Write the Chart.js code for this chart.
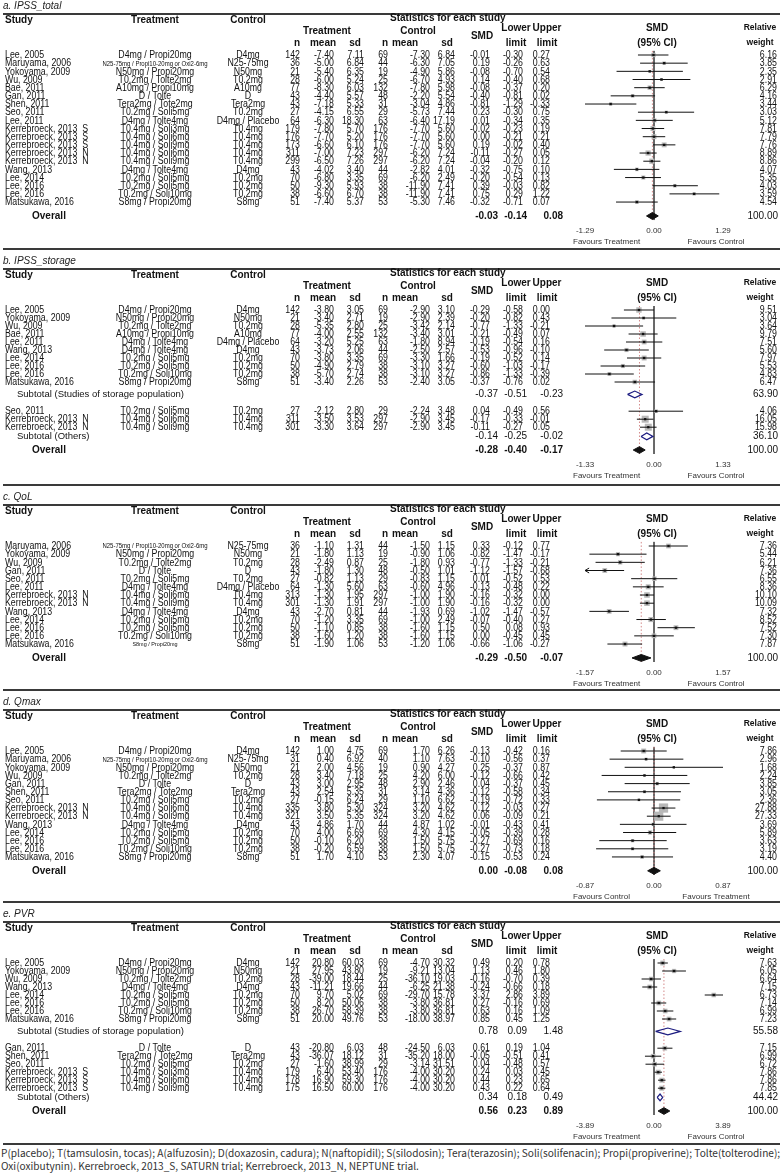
<!DOCTYPE html>
<html>
<head>
<meta charset="utf-8">
<script src="https://cdn.jsdelivr.net/npm/chart.js@4.4.1/dist/chart.umd.min.js"></script>
<style>
  html, body { margin: 0; padding: 0; background: #fff; }
  #page { position: relative; width: 784px; height: 1175px; overflow: hidden; }
  #page canvas { position: absolute; left: 0; }
  #note { position: absolute; left: 1px; top: 1146px; width: 783px; white-space: nowrap;
          font: 10.1px "Noto Sans CJK KR", sans-serif; line-height: 13px; color: #333; }
</style>
</head>
<body>
<div id="page">
  <canvas id="pa"></canvas>
  <canvas id="pb"></canvas>
  <canvas id="pc"></canvas>
  <canvas id="pd"></canvas>
  <canvas id="pe"></canvas>
  <div id="note">P(placebo); T(tamsulosin, tocas); A(alfuzosin); D(doxazosin, cadura); N(naftopidil); S(silodosin); Tera(terazosin); Soli(solifenacin); Propi(propiverine); Tolte(tolterodine);<br>Oxi(oxibutynin). Kerrebroeck, 2013_S, SATURN trial; Kerrebroeck, 2013_N, NEPTUNE trial.</div>
</div>
<script>
// ---- a. IPSS_total
const aStudies = ['Lee, 2005','Maruyama, 2006','Yokoyama, 2009','Wu, 2009','Bae, 2011','Gan, 2011','Shen, 2011','Seo, 2011','Lee, 2011','Kerrebroeck, 2013  S','Kerrebroeck, 2013  S','Kerrebroeck, 2013  S','Kerrebroeck, 2013  N','Kerrebroeck, 2013  N','Wang, 2013','Lee, 2014','Lee, 2016','Lee, 2016','Matsukawa, 2016'];
const aTreat = ['D4mg / Propi20mg','N25-75mg / Propi10-20mg or Oxi2-6mg','N50mg / Propi20mg','T0.2mg / Tolte2mg','A10mg / Propi10mg','D / Tolte','Tera2mg / Tote2mg','T0.2mg / Soli5mg','D4mg / Tolte4mg','T0.4mg / Soli3mg','T0.4mg / Soli6mg','T0.4mg / Soli9mg','T0.4mg / Soli6mg','T0.4mg / Soli9mg','D4mg / Tolte4mg','T0.2mg / Soli5mg','T0.2mg / Soli5mg','T0.2mg / Soli10mg','S8mg / Propi20mg'];
const aCtrl = ['D4mg','N25-75mg','N50mg','T0.2mg','A10mg','D','Tera2mg','T0.2mg','D4mg / Placebo','T0.4mg','T0.4mg','T0.4mg','T0.4mg','T0.4mg','D4mg','T0.2mg','T0.2mg','T0.2mg','S8mg'];
const aTrtN = [142,36,21,28,77,43,43,27,64,179,176,173,311,299,43,70,50,38,51];
const aTrtMean = [-7.40,-5.00,-5.40,-6.00,-8.30,-4.40,-7.18,-4.15,-6.30,-7.80,-7.70,-6.60,-7.00,-6.50,-4.02,-6.80,-9.30,-6.60,-7.40];
const aTrtSd = [7.11,6.84,6.35,5.24,6.03,5.57,5.33,6.55,18.30,5.70,5.20,6.10,7.23,7.26,3.40,3.35,5.93,6.70,5.37];
const aCtlN = [69,44,19,25,132,48,31,29,63,176,176,176,297,297,44,69,38,38,53];
const aCtlMean = [-7.30,-6.30,-4.90,-6.70,-7.80,-2.20,-3.04,-5.73,-6.40,-7.70,-7.70,-7.70,-6.20,-6.20,-2.82,-6.20,-11.90,-11.90,-5.30];
const aCtlSd = [6.84,7.05,5.86,4.93,5.98,5.54,4.86,7.44,17.19,5.60,5.60,5.60,7.24,7.24,4.01,2.49,7.41,7.41,7.46];
const aSmd = [-0.01,0.19,-0.08,0.14,-0.08,-0.40,-0.81,0.23,0.01,-0.02,0.00,0.19,-0.11,-0.04,-0.32,-0.20,0.39,0.75,-0.32];
const aLower = [-0.30,-0.26,-0.70,-0.40,-0.37,-0.81,-1.29,-0.30,-0.34,-0.23,-0.21,-0.02,-0.27,-0.20,-0.75,-0.54,-0.03,0.29,-0.71];
const aUpper = [0.27,0.63,0.54,0.68,0.20,0.02,-0.33,0.75,0.35,0.19,0.21,0.40,0.05,0.12,0.10,0.13,0.82,1.22,0.07];
const aWeight = [6.16,3.85,2.35,2.91,6.29,4.16,3.44,3.03,5.12,7.81,7.79,7.76,8.89,8.86,4.07,5.35,4.03,3.59,4.54];
const aOverall = [-0.03,-0.14,0.08];
const aLimit = 1.29;

// ---- b. IPSS_storage
const bStudies = ['Lee, 2005','Yokoyama, 2009','Wu, 2009','Bae, 2011','Lee, 2011','Wang, 2013','Lee, 2014','Lee, 2016','Lee, 2016','Matsukawa, 2016','Seo, 2011','Kerrebroeck, 2013  N','Kerrebroeck, 2013  N'];
const bTreat = ['D4mg / Propi20mg','N50mg / Propi20mg','T0.2mg / Tolte2mg','A10mg / Propi10mg','D4mg / Tolte4mg','D4mg / Tolte4mg','T0.2mg / Soli5mg','T0.2mg / Soli5mg','T0.2mg / Soli10mg','S8mg / Propi20mg','T0.2mg / Soli5mg','T0.4mg / Soli6mg','T0.4mg / Soli9mg'];
const bCtrl = ['D4mg','N50mg','T0.2mg','A10mg','D4mg / Placebo','D4mg','T0.2mg','T0.2mg','T0.2mg','S8mg','T0.2mg','T0.4mg','T0.4mg'];
const bTrtN = [142,21,28,77,64,43,70,50,38,51,27,311,301];
const bTrtMean = [-3.80,-3.40,-5.35,-4.00,-3.20,-3.73,-3.80,-4.90,-5.70,-3.40,-2.12,-3.50,-3.30];
const bTrtSd = [3.05,2.71,2.80,2.55,5.25,2.06,3.35,2.79,2.74,2.26,2.80,3.53,3.64];
const bCtlN = [69,19,25,132,63,44,69,38,38,53,29,297,297];
const bCtlMean = [-2.90,-2.90,-3.42,-3.40,-1.80,-2.50,-3.30,-3.10,-3.10,-2.40,-2.24,-2.90,-2.90];
const bCtlSd = [3.10,2.39,2.14,3.01,8.94,2.57,1.66,3.27,3.27,3.05,3.48,3.45,3.45];
const bSmd = [-0.29,-0.20,-0.77,-0.21,-0.19,-0.53,-0.19,-0.60,-0.86,-0.37,0.04,-0.17,-0.11];
const bLower = [-0.58,-0.82,-1.33,-0.49,-0.54,-0.96,-0.52,-1.03,-1.33,-0.76,-0.49,-0.33,-0.27];
const bUpper = [0.00,0.43,-0.21,0.07,0.16,-0.10,0.14,-0.17,-0.39,0.02,0.56,-0.01,0.05];
const bWeight = [9.51,3.04,3.64,9.79,7.51,5.60,7.97,5.53,4.83,6.47,4.06,16.05,15.98];
const bGroups = [10,3];
const bSubLabels = ['Subtotal (Studies of storage population)','Subtotal (Others)'];
const bSubSmd = [-0.37,-0.14];
const bSubLower = [-0.51,-0.25];
const bSubUpper = [-0.23,-0.02];
const bSubWeight = [63.90,36.10];
const bOverall = [-0.28,-0.40,-0.17];
const bLimit = 1.33;

// ---- c. QoL
const cStudies = ['Maruyama, 2006','Yokoyama, 2009','Wu, 2009','Gan, 2011','Seo, 2011','Lee, 2011','Kerrebroeck, 2013  N','Kerrebroeck, 2013  N','Wang, 2013','Lee, 2014','Lee, 2016','Lee, 2016','Matsukawa, 2016'];
const cTreat = ['N25-75mg / Propi10-20mg or Oxi2-6mg','N50mg / Propi20mg','T0.2mg / Tolte2mg','D / Tolte','T0.2mg / Soli5mg','D4mg / Tolte4mg','T0.4mg / Soli6mg','T0.4mg / Soli9mg','D4mg / Tolte4mg','T0.2mg / Soli5mg','T0.2mg / Soli5mg','T0.2mg / Soli10mg','S8mg / Propi20mg'];
const cCtrl = ['N25-75mg','N50mg','T0.2mg','D','T0.2mg','D4mg / Placebo','T0.4mg','T0.4mg','D4mg','T0.2mg','T0.2mg','T0.2mg','S8mg'];
const cTrtN = [36,21,28,43,27,64,313,301,43,70,50,38,51];
const cTrtMean = [-1.10,-1.80,-2.49,-1.80,-0.82,-1.30,-1.30,-1.30,-2.70,-1.20,-1.10,-1.60,-1.90];
const cTrtSd = [1.31,1.13,0.87,1.30,1.13,5.60,1.95,1.91,0.81,3.35,0.85,1.20,1.06];
const cCtlN = [44,19,25,48,29,63,297,297,44,69,38,38,53];
const cCtlMean = [-1.50,-0.90,-1.80,-0.50,-0.83,-0.60,-1.00,-1.00,-1.93,-1.00,-1.60,-1.60,-1.20];
const cCtlSd = [1.15,1.06,0.93,1.01,1.15,4.96,1.90,1.90,0.69,2.49,1.15,1.15,1.06];
const cSmd = [0.33,-0.82,-0.77,-1.12,0.01,-0.13,-0.16,-0.16,-1.02,-0.07,0.50,0.00,-0.66];
const cLower = [-0.12,-1.47,-1.33,-1.57,-0.52,-0.48,-0.32,-0.32,-1.47,-0.40,0.08,-0.45,-1.06];
const cUpper = [0.77,-0.17,-0.21,-0.68,0.53,0.22,0.00,0.00,-0.57,0.27,0.93,0.45,-0.27];
const cWeight = [7.36,5.44,6.21,7.36,6.55,8.36,10.10,10.09,7.32,8.52,7.52,7.30,7.87];
const cTruncated = [3];   // CI runs past the axis -> arrow
const cOverall = [-0.29,-0.50,-0.07];
const cLimit = 1.57;

// ---- d. Qmax
const dStudies = ['Lee, 2005','Maruyama, 2006','Yokoyama, 2009','Wu, 2009','Gan, 2011','Shen, 2011','Seo, 2011','Kerrebroeck, 2013  N','Kerrebroeck, 2013  N','Wang, 2013','Lee, 2014','Lee, 2016','Lee, 2016','Matsukawa, 2016'];
const dTreat = ['D4mg / Propi20mg','N25-75mg / Propi10-20mg or Oxi2-6mg','N50mg / Propi20mg','T0.2mg / Tolte2mg','D / Tolte','Tera2mg / Tote2mg','T0.2mg / Soli5mg','T0.4mg / Soli6mg','T0.4mg / Soli9mg','D4mg / Tolte4mg','T0.2mg / Soli5mg','T0.2mg / Soli5mg','T0.2mg / Soli10mg','S8mg / Propi20mg'];
const dCtrl = ['D4mg','N25-75mg','N50mg','T0.2mg','D','Tera2mg','T0.2mg','T0.4mg','T0.4mg','D4mg','T0.2mg','T0.2mg','T0.2mg','S8mg'];
const dTrtN = [142,31,21,28,43,43,27,335,321,43,70,50,38,51];
const dTrtMean = [1.00,0.40,2.00,3.40,3.00,2.54,-0.15,3.80,3.50,4.86,4.00,-0.10,-0.20,1.70];
const dTrtSd = [4.75,6.92,4.56,7.18,2.95,5.35,6.24,5.30,5.35,1.70,6.69,6.20,6.59,4.10];
const dCtlN = [69,40,19,25,48,31,29,324,324,44,69,38,38,53];
const dCtlMean = [1.70,1.10,0.90,4.20,2.90,3.14,1.10,3.20,3.20,4.87,4.30,1.50,1.50,2.30];
const dCtlSd = [6.26,7.63,4.27,6.00,2.46,4.36,6.62,4.62,4.62,1.02,4.15,5.75,5.75,4.07];
const dSmd = [-0.13,-0.10,0.25,-0.12,0.04,-0.12,-0.19,0.12,0.06,-0.01,-0.05,-0.27,-0.27,-0.15];
const dLower = [-0.42,-0.56,-0.37,-0.66,-0.37,-0.58,-0.72,-0.03,-0.09,-0.43,-0.39,-0.69,-0.73,-0.53];
const dUpper = [0.16,0.37,0.87,0.42,0.45,0.34,0.33,0.27,0.21,0.41,0.28,0.16,0.18,0.24];
const dWeight = [7.86,2.96,1.68,2.24,3.85,3.05,2.36,27.88,27.33,3.69,5.89,3.63,3.19,4.40];
const dOverall = [0.00,-0.08,0.08];
const dLimit = 0.87;

// ---- e. PVR
const eStudies = ['Lee, 2005','Yokoyama, 2009','Wu, 2009','Wang, 2013','Lee, 2014','Lee, 2016','Lee, 2016','Matsukawa, 2016','Gan, 2011','Shen, 2011','Seo, 2011','Kerrebroeck, 2013  S','Kerrebroeck, 2013  S','Kerrebroeck, 2013  S'];
const eTreat = ['D4mg / Propi20mg','N50mg / Propi20mg','T0.2mg / Tolte2mg','D4mg / Tolte4mg','T0.2mg / Soli5mg','T0.2mg / Soli5mg','T0.2mg / Soli10mg','S8mg / Propi20mg','D / Tolte','Tera2mg / Tote2mg','T0.2mg / Soli5mg','T0.4mg / Soli3mg','T0.4mg / Soli6mg','T0.4mg / Soli9mg'];
const eCtrl = ['D4mg','N50mg','T0.2mg','D4mg','T0.2mg','T0.2mg','T0.2mg','S8mg','D','Tera2mg','T0.2mg','T0.4mg','T0.4mg','T0.4mg'];
const eTrtN = [142,21,28,43,70,50,38,51,43,43,27,179,178,175];
const eTrtMean = [20.80,27.95,-39.00,-11.21,9.70,8.20,26.70,20.00,-20.80,-36.07,-1.60,6.40,16.90,16.50];
const eTrtSd = [60.03,43.80,18.44,19.66,5.02,50.06,58.39,49.76,6.03,18.12,38.99,53.40,59.30,60.00];
const eCtlN = [69,19,25,44,69,38,38,53,48,31,29,176,176,176];
const eCtlMean = [-4.70,-9.21,-36.10,-6.25,-29.70,-3.80,-3.80,-18.00,-24.50,-35.20,-3.14,-4.00,-4.00,-4.00];
const eCtlSd = [30.32,13.04,19.03,21.38,15.78,36.81,36.81,38.97,6.03,18.00,31.51,30.20,30.20,30.20];
const eSmd = [0.49,1.13,-0.16,-0.24,3.37,0.27,0.63,0.85,0.61,-0.05,0.04,0.24,0.44,0.43];
const eLower = [0.20,0.46,-0.70,-0.66,2.86,-0.16,0.16,0.45,0.19,-0.51,-0.48,0.03,0.23,0.22];
const eUpper = [0.78,1.80,0.39,0.18,3.89,0.69,1.09,1.25,1.04,0.41,0.57,0.45,0.65,0.64];
const eWeight = [7.63,6.05,6.64,7.15,6.73,7.14,6.99,7.23,7.15,6.99,6.72,7.86,7.86,7.85];
const eGroups = [8,6];
const eSubLabels = ['Subtotal (Studies of storage population)','Subtotal (Others)'];
const eSubSmd = [0.78,0.34];
const eSubLower = [0.09,0.18];
const eSubUpper = [1.48,0.49];
const eSubWeight = [55.58,44.42];
const eOverall = [0.56,0.23,0.89];
const eLimit = 3.89;

const favoursTC = ['Favours Treatment','Favours Control'];
const favoursCT = ['Favours Control','Favours Treatment'];

// ---- layout
const FONT = '"Liberation Sans", Arial, sans-serif';
const ROW0 = 60;                  // y of first study row inside a panel
const PLOT_L = 585, PLOT_R = 723; // forest plot area
const COL = { study: 5, treat: 155, ctrl: 248, tn: 300, tmean: 334, tsd: 364, cn: 388, cmean: 430, csd: 455, smd: 490, lo: 523, hi: 550, wt: 777 };
const SUM = { smd: 498, lo: 527, hi: 563, wt: 778 };
const GAP = { sub1: 1.55, sub2: 1.15, group: 2.1, overall: 1.7 };
const SQUEEZE = 0.88;             // table body text is narrow and tall
const f2 = v => v.toFixed(2);

const tablePlugin = {
  id: 'table',
  afterDraw(chart, args, o) {
    const p = o.panel, ctx = chart.ctx, ys = chart.scales.y, xs = chart.scales.x;
    const put = (s, x, y, align, font) => { ctx.font = font; ctx.textAlign = align; ctx.fillText(s, x, y); };
    // condensed text for the table rows
    const cput = (s, x, y, align, size, weight) => {
      ctx.save();
      ctx.translate(x, y);
      ctx.scale(SQUEEZE, 1);
      ctx.font = (weight || '') + ' ' + size + 'px ' + FONT;
      ctx.textAlign = align;
      ctx.fillText(s, 0, 0);
      ctx.restore();
    };
    const B10 = 'bold 10px ' + FONT;
    ctx.save();
    ctx.textBaseline = 'middle';
    ctx.fillStyle = '#222';
    put(p.title, 3, 11, 'left', 'italic 10px ' + FONT);
    ctx.strokeStyle = '#3a3a3a';
    ctx.lineWidth = 2;
    ctx.beginPath();
    ctx.moveTo(3, 19); ctx.lineTo(780, 19);
    ctx.moveTo(3, chart.height - 1); ctx.lineTo(780, chart.height - 1);
    ctx.stroke();

    ctx.fillStyle = '#111';
    put('Study', 5, 25, 'left', B10);
    put('Treatment', 155, 25, 'center', B10);
    put('Control', 248, 25, 'center', B10);
    put('Statistics for each study', 390, 23.5, 'left', B10);
    put('Treatment', 327, 36, 'center', B10);
    put('Control', 418, 36, 'center', B10);
    [['n', 297], ['mean', 323], ['sd', 355], ['n', 385], ['mean', 405], ['sd', 447]].forEach(h => put(h[0], h[1], 48, 'center', B10));
    put('SMD', 482, 41, 'center', B10);
    put('Lower', 516, 33, 'center', B10);
    put('Upper', 547, 33, 'center', B10);
    put('limit', 516, 48, 'center', B10);
    put('limit', 547, 48, 'center', B10);
    put('SMD', 657, 33, 'center', B10);
    put('(95% CI)', 657, 48, 'center', B10);
    put('Relative', 760, 33, 'center', 'bold 8.5px ' + FONT);
    put('weight', 760, 48, 'center', 'bold 8.5px ' + FONT);

    p.studies.forEach((s, i) => {
      const y = ys.getPixelForValue(p.studyY[i]) + 0.5;
      const tsize = p.treat[i].length > 24 ? 6.8 : (p.tinyTreat || []).includes(i) ? 6.2 : 10;
      cput(s, COL.study, y, 'left', 10);
      cput(p.treat[i], COL.treat, y, 'center', tsize);
      cput(p.ctrl[i], COL.ctrl, y, 'center', 10);
      cput(String(p.tn[i]), COL.tn, y, 'right', 10);
      cput(f2(p.tmean[i]), COL.tmean, y, 'right', 10);
      cput(f2(p.tsd[i]), COL.tsd, y, 'right', 10);
      cput(String(p.cn[i]), COL.cn, y, 'right', 10);
      cput(f2(p.cmean[i]), COL.cmean, y, 'right', 10);
      cput(f2(p.csd[i]), COL.csd, y, 'right', 10);
      cput(f2(p.smd[i]), COL.smd, y, 'right', 10);
      cput(f2(p.lo[i]), COL.lo, y, 'right', 10);
      cput(f2(p.hi[i]), COL.hi, y, 'right', 10);
      cput(f2(p.wt[i]), COL.wt, y, 'right', 10);
    });
    p.subLabels.forEach((s, g) => {
      const y = ys.getPixelForValue(p.subY[g]);
      put(s, 17, y, 'left', '9.5px ' + FONT);
      put(f2(p.subSmd[g]), SUM.smd, y, 'right', '10px ' + FONT);
      put(f2(p.subLo[g]), SUM.lo, y, 'right', '10px ' + FONT);
      put(f2(p.subHi[g]), SUM.hi, y, 'right', '10px ' + FONT);
      put(f2(p.subWt[g]), SUM.wt, y, 'right', '10px ' + FONT);
    });
    const yo = ys.getPixelForValue(p.overallY);
    put('Overall', 32, yo, 'left', B10);
    put(f2(p.overall[0]), SUM.smd, yo, 'right', B10);
    put(f2(p.overall[1]), SUM.lo, yo, 'right', B10);
    put(f2(p.overall[2]), SUM.hi, yo, 'right', B10);
    put('100.00', SUM.wt, yo, 'right', '10px ' + FONT);

    ctx.fillStyle = '#333';
    const yf = yo + 26;
    put(p.favours[0], xs.left - 12, yf, 'left', '8px ' + FONT);
    put(p.favours[1], xs.right - 7, yf, 'center', '8px ' + FONT);
    ctx.restore();
  }
};

function makePanel(id, top, height, p) {
  const cv = document.getElementById(id);
  cv.width = 784; cv.height = height;
  cv.style.top = top + 'px';
  const groups = p.groups || [p.studies.length];
  p.subLabels = p.subLabels || [];
  // row positions in row units
  const studyY = [], subY = [];
  let pos = 0;
  groups.forEach((n, g) => {
    if (g > 0) pos = subY[g - 1] + GAP.group;
    for (let j = 0; j < n; j++) { studyY.push(pos); pos += 1; }
    if (p.subLabels.length) subY.push(pos - 1 + (g === 0 ? GAP.sub1 : GAP.sub2));
  });
  const lastY = subY.length ? subY[subY.length - 1] : studyY[studyY.length - 1];
  const overallY = lastY + GAP.overall;
  Object.assign(p, { studyY, subY, overallY });
  const L = p.limit, step = p.step;
  const areaTop = ROW0 - step / 2;
  const areaBottom = areaTop + (overallY + 1) * step;

  const ciLines = [];
  p.studies.forEach((s, i) => {
    ciLines.push({ x: p.lo[i], y: studyY[i] }, { x: p.hi[i], y: studyY[i] }, { x: p.hi[i], y: null });
  });
  const arrows = [];
  (p.truncated || []).forEach(i => {
    const d = L * 0.06;
    arrows.push({ x: p.lo[i] + d, y: studyY[i] - 0.3 }, { x: p.lo[i], y: studyY[i] }, { x: p.lo[i] + d, y: studyY[i] + 0.3 }, { x: p.lo[i], y: null });
  });
  const pts = p.smd.map((v, i) => ({ x: v, y: studyY[i] }));
  const diamond = (m, lo, hi, y) => [{ x: lo, y }, { x: m, y: y - 0.42 }, { x: hi, y }, { x: m, y: y + 0.42 }, { x: lo, y }];
  const yRange = [-0.5, overallY + 0.5];

  const datasets = [
    { data: yRange.map(y => ({ x: 0, y })), showLine: true, borderColor: '#555', borderWidth: 1, pointRadius: 0, order: 10 },
    { data: yRange.map(y => ({ x: p.overall[0], y })), showLine: true, borderColor: '#d48a8a', borderWidth: 1, borderDash: [1.5, 2], pointRadius: 0, order: 9 },
    { data: pts, pointStyle: 'rect', backgroundColor: '#b8b8b8', borderWidth: 0,
      pointRadius: c => 1.75 * Math.sqrt(p.wt[c.dataIndex]) / Math.SQRT2, order: 8 },
    { data: ciLines, showLine: true, spanGaps: false, borderColor: '#111', borderWidth: 1, pointRadius: 0, order: 7 },
    { data: arrows, showLine: true, spanGaps: false, borderColor: '#111', borderWidth: 1, pointRadius: 0, order: 7 },
    { data: pts, pointStyle: 'rect', backgroundColor: '#111', borderWidth: 0, pointRadius: 1.6, order: 6 },
  ];
  p.subLabels.forEach((s, g) => {
    datasets.push({ data: diamond(p.subSmd[g], p.subLo[g], p.subHi[g], subY[g]), showLine: true, borderColor: '#1c1c80',
      borderWidth: 1.2, pointRadius: 0, fill: false, order: 5 });
  });
  datasets.push({ data: diamond(p.overall[0], p.overall[1], p.overall[2], overallY), showLine: true, borderColor: '#111',
    backgroundColor: '#111', borderWidth: 1, pointRadius: 0, fill: 'shape', order: 5 });
  datasets.forEach(d => { d.clip = false; d.tension = 0; });

  return new Chart(cv, {
    type: 'scatter',
    data: { datasets },
    options: {
      responsive: false,
      animation: false,
      events: [],
      layout: { autoPadding: false, padding: { left: PLOT_L, right: 784 - PLOT_R, top: areaTop, bottom: 0 } },
      scales: {
        x: {
          type: 'linear', min: -L, max: L,
          grid: { display: false, drawTicks: false },
          border: { display: false },
          afterBuildTicks: ax => { ax.ticks = [-L, 0, L].map(v => ({ value: v })); },
          afterFit: ax => { ax.height = height - areaBottom; },
          ticks: { padding: 6, maxRotation: 0, autoSkip: false, color: '#333',
                   font: { family: FONT, size: 8 }, callback: v => f2(v) }
        },
        y: { type: 'linear', reverse: true, min: yRange[0], max: yRange[1], display: false }
      },
      plugins: { legend: { display: false }, tooltip: { enabled: false }, table: { panel: p } }
    },
    plugins: [tablePlugin]
  });
}

makePanel('pa', -5, 255, { title: 'a. IPSS_total', step: 8.17, studies: aStudies, treat: aTreat, ctrl: aCtrl,
  tn: aTrtN, tmean: aTrtMean, tsd: aTrtSd, cn: aCtlN, cmean: aCtlMean, csd: aCtlSd,
  smd: aSmd, lo: aLower, hi: aUpper, wt: aWeight, overall: aOverall, limit: aLimit, favours: favoursTC });
makePanel('pb', 250, 236, { title: 'b. IPSS_storage', step: 8, studies: bStudies, treat: bTreat, ctrl: bCtrl,
  tn: bTrtN, tmean: bTrtMean, tsd: bTrtSd, cn: bCtlN, cmean: bCtlMean, csd: bCtlSd,
  smd: bSmd, lo: bLower, hi: bUpper, wt: bWeight, groups: bGroups, subLabels: bSubLabels,
  subSmd: bSubSmd, subLo: bSubLower, subHi: bSubUpper, subWt: bSubWeight,
  overall: bOverall, limit: bLimit, favours: favoursTC });
makePanel('pc', 486, 205, { title: 'c. QoL', step: 8.17, studies: cStudies, treat: cTreat, ctrl: cCtrl,
  tn: cTrtN, tmean: cTrtMean, tsd: cTrtSd, cn: cCtlN, cmean: cCtlMean, csd: cCtlSd,
  smd: cSmd, lo: cLower, hi: cUpper, wt: cWeight, truncated: cTruncated, tinyTreat: [12],
  overall: cOverall, limit: cLimit, favours: favoursTC });
makePanel('pd', 691, 212, { title: 'd. Qmax', step: 8.15, studies: dStudies, treat: dTreat, ctrl: dCtrl,
  tn: dTrtN, tmean: dTrtMean, tsd: dTrtSd, cn: dCtlN, cmean: dCtlMean, csd: dCtlSd,
  smd: dSmd, lo: dLower, hi: dUpper, wt: dWeight, overall: dOverall, limit: dLimit, favours: favoursCT });
makePanel('pe', 903, 242, { title: 'e. PVR', step: 8, studies: eStudies, treat: eTreat, ctrl: eCtrl,
  tn: eTrtN, tmean: eTrtMean, tsd: eTrtSd, cn: eCtlN, cmean: eCtlMean, csd: eCtlSd,
  smd: eSmd, lo: eLower, hi: eUpper, wt: eWeight, groups: eGroups, subLabels: eSubLabels,
  subSmd: eSubSmd, subLo: eSubLower, subHi: eSubUpper, subWt: eSubWeight,
  overall: eOverall, limit: eLimit, favours: favoursTC });
</script>
</body>
</html>
